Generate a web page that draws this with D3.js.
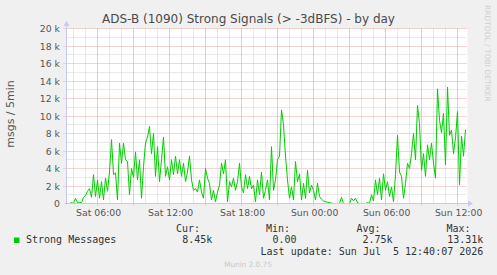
<!DOCTYPE html>
<html>
<head>
<meta charset="UTF-8">
<title>Strong Signals</title>
<script src="https://d3js.org/d3.v7.min.js"></script>
<style>
  body { margin: 0; background: #f0f0f0; }
  svg { display: block; }
  text { font-family: "DejaVu Sans", sans-serif; }
  .mono { font-family: "DejaVu Sans Mono", monospace; font-size: 10px; fill: #333; white-space: pre; }
</style>
</head>
<body>
<svg id="chart" width="497" height="275"></svg>
<script>
const title = "ADS-B (1090) Strong Signals (> -3dBFS) - by day";
const yLabel = "msgs / 5min";
const seriesName = "Strong Messages";
const startTime = new Date(2026, 6, 4, 3, 20);
const endTime = new Date(2026, 6, 5, 12, 40);
const stepMinutes = 10;

// thousands of messages per 5 min, one value every 10 minutes
const strongK = [
  0, 0, 0, 0.1, 0, 0.6, 0.1, 0.1, 0.1, 0.7,
  0.9, 1.4, 1.7, 0.7, 3.3, 0.8, 2.7, 0.6, 2.5, 0.4,
  2.9, 1.4, 3.6, 7.3, 3.3, 3.5, 0.4, 6.9, 4.6, 6.9,
  5.0, 4.8, 1.0, 4.0, 3.0, 5.9, 2.7, 5.0, 0.6, 4.2,
  6.9, 7.6, 8.8, 5.7, 8.0, 3.1, 6.5, 2.5, 5.0, 7.6,
  3.1, 4.2, 2.7, 5.0, 3.3, 5.4, 3.4, 5.0, 3.1, 4.6,
  2.5, 3.6, 5.4, 2.7, 1.5, 1.7, 1.3, 2.7, 1.3, 0.6,
  4.0, 2.9, 2.3, 0.4, 1.5, 0.2, 1.3, 2.1, 4.6, 3.4,
  5.0, 0.2, 2.5, 1.9, 2.9, 1.5, 2.5, 4.6, 1.9, 1.2,
  3.3, 1.7, 3.1, 1.7, 2.1, 0.2, 2.7, 1.0, 3.6, 0.6,
  1.5, 2.7, 0.4, 6.5, 1.5, 2.7, 5.0, 5.4, 10.7, 9.0,
  5.4, 2.7, 0.6, 1.9, 0.4, 4.8, 2.5, 3.4, 0.4, 2.3,
  0.6, 3.8, 1.2, 2.1, 1.5, 0.4, 2.3, 0.8, 0.5, 0.3,
  0.2, 0.15, 0.1, 0.05, 0, 0, 0, 0, 0.7, 0,
  0, 0, 0, 0.6, 0.3, 0.6, 0.1, 0, 0, 0,
  0, 0.1, 0, 1.0, 0.3, 2.7, 1.0, 2.9, 0.4, 3.4,
  1.5, 2.5, 0.8, 1.9, 0.2, 3.3, 7.8, 3.6, 3.1, 0.6,
  2.3, 4.6, 4.0, 5.7, 8.0, 5.0, 11.2, 9.1, 3.8, 5.7,
  3.1, 6.7, 5.0, 6.9, 4.6, 2.9, 13.1, 9.5, 8.1, 10.3,
  4.4, 13.31, 7.8, 8.4, 5.7, 7.5, 10.5, 2.1, 7.7, 5.4,
  8.45
];

const yTicks = [0, 2000, 4000, 6000, 8000, 10000, 12000, 14000, 16000, 18000, 20000];
const statLabels = ["Cur:", "Min:", "Avg:", "Max:"];
const statValues = ["8.45k", "0.00", "2.75k", "13.31k"];
const lastUpdate = "Last update: Sun Jul  5 12:40:07 2026";
const version = "Munin 2.0.75";

const svg = d3.select("#chart");

const x = d3.scaleTime().domain([startTime, endTime]).range([65.5, 465.5]);
const y = d3.scaleLinear().domain([0, 20000]).range([203.5, 28.5]);
const crispY = v => Math.round(y(v) - 0.5) + 0.5;

// plot background
svg.append("rect")
    .attr("x", 66.5).attr("y", 28.5)
    .attr("width", 401).attr("height", 175)
    .attr("fill", "#fff");

// minor grid
const grid = svg.append("g").attr("fill", "none").attr("stroke-dasharray", "1,1");
grid.selectAll(".vmin")
    .data(d3.timeHour.range(startTime, endTime))
    .enter().append("line")
    .attr("x1", d => x(d)).attr("x2", d => x(d))
    .attr("y1", 28.5).attr("y2", 203.5)
    .attr("stroke", "#d2d2d2");
grid.selectAll(".hmin")
    .data(d3.range(1000, 20000, 2000))
    .enter().append("line")
    .attr("x1", 66.5).attr("x2", 466.5)
    .attr("y1", crispY).attr("y2", crispY)
    .attr("stroke", "#d2d2d2");

// major grid
grid.selectAll(".vmaj")
    .data(d3.timeHour.every(3).range(startTime, endTime))
    .enter().append("line")
    .attr("x1", d => x(d)).attr("x2", d => x(d))
    .attr("y1", 28.5).attr("y2", 206)
    .attr("stroke", "#eaa8a8");
grid.selectAll(".hmaj")
    .data(yTicks.slice(1))
    .enter().append("line")
    .attr("x1", 63.5).attr("x2", 466.5)
    .attr("y1", crispY).attr("y2", crispY)
    .attr("stroke", "#eaa8a8");

// data line
const line = d3.line()
    .x((d, i) => x(d3.timeMinute.offset(startTime, i * stepMinutes)))
    .y(d => y(d * 1000));

svg.append("path")
    .datum(strongK)
    .attr("fill", "none")
    .attr("stroke", "#00cc00")
    .attr("stroke-width", 1)
    .attr("d", line);

// axes lines + arrows
const axisColor = "#c8c8f4";
svg.append("line").attr("x1", 66.5).attr("x2", 66.5).attr("y1", 25).attr("y2", 203.5)
    .attr("stroke", axisColor);
svg.append("line").attr("x1", 66.5).attr("x2", 469).attr("y1", 203.5).attr("y2", 203.5)
    .attr("stroke", axisColor);
svg.append("path").attr("d", "M63.5,26L66.5,21L69.5,26Z").attr("fill", axisColor);
svg.append("path").attr("d", "M468,200.5L473,203.5L468,206.5Z").attr("fill", axisColor);

// y axis labels
const yAxis = svg.append("g")
    .attr("transform", "translate(60,0)")
    .call(d3.axisLeft(y)
        .tickValues(yTicks)
        .tickSize(0)
        .tickPadding(0)
        .tickFormat(d => d === 0 ? "0" : (d / 1000) + " k"));
yAxis.select(".domain").remove();
yAxis.selectAll("text")
    .attr("y", d => crispY(d) - y(d))
    .style("font-family", "DejaVu Sans")
    .style("font-size", "9.3px")
    .attr("fill", "#555");

// x axis labels
const xAxis = svg.append("g")
    .attr("transform", "translate(0.6,209.4)")
    .call(d3.axisBottom(x)
        .tickValues(d3.timeHour.every(6).range(startTime, endTime))
        .tickSize(0)
        .tickPadding(0)
        .tickFormat(d3.timeFormat("%a %H:%M")));
xAxis.select(".domain").remove();
xAxis.selectAll("text")
    .style("font-family", "DejaVu Sans")
    .style("font-size", "9.3px")
    .attr("fill", "#555");

// title
svg.append("text")
    .attr("x", 248.5).attr("y", 23)
    .attr("text-anchor", "middle")
    .style("font-size", "12px")
    .attr("fill", "#4a4a4a")
    .text(title);

// y label
svg.append("text")
    .attr("transform", "translate(14,114) rotate(-90)")
    .attr("text-anchor", "middle")
    .style("font-size", "11px")
    .attr("fill", "#555")
    .text(yLabel);

// watermark
svg.append("text")
    .attr("transform", "translate(485,5) rotate(90)")
    .style("font-size", "7.5px")
    .attr("fill", "#cfcfcf")
    .text("RRDTOOL / TOBI OETIKER");

// legend
svg.append("rect")
    .attr("x", 14).attr("y", 237.5)
    .attr("width", 5.5).attr("height", 5.5)
    .attr("fill", "#00cc00");
svg.append("text").attr("class", "mono")
    .attr("x", 26).attr("y", 243).text(seriesName);

const labelX = [176, 266, 356.5, 446.5];
svg.selectAll(".stat-label")
    .data(statLabels)
    .enter().append("text")
    .attr("class", "mono")
    .attr("x", (d, i) => labelX[i])
    .attr("y", 231.5)
    .text(d => d);

const valueEnd = [212.4, 296.6, 392.6, 483.3];
svg.selectAll(".stat-value")
    .data(statValues)
    .enter().append("text")
    .attr("class", "mono")
    .attr("x", (d, i) => valueEnd[i])
    .attr("y", 243)
    .attr("text-anchor", "end")
    .text(d => d);

svg.append("text").attr("class", "mono")
    .attr("x", 483.3).attr("y", 255)
    .attr("text-anchor", "end")
    .text(lastUpdate);

svg.append("text")
    .attr("x", 248).attr("y", 266.5)
    .attr("text-anchor", "middle")
    .style("font-size", "7.3px")
    .attr("fill", "#c8c8c8")
    .text(version);
</script>
</body>
</html>
